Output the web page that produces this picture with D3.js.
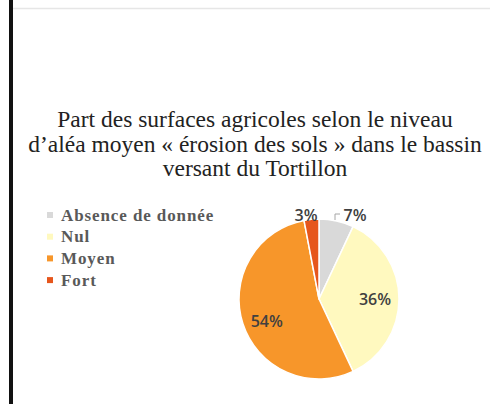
<!DOCTYPE html>
<html>
<head>
<meta charset="utf-8">
<script src="https://cdn.jsdelivr.net/npm/d3@7/dist/d3.min.js"></script>
<style>
  html, body { margin: 0; padding: 0; background: #fff; }
  svg { display: block; }
</style>
</head>
<body>
<svg id="chart" width="490" height="404"></svg>
<script>
// Agricultural area shares by erosion hazard level (Tortillon basin)
const categories = ["Absence de donnée", "Nul", "Moyen", "Fort"];
const values = [7, 36, 54, 3];
const colors = ["#d9d9d9", "#fff9bf", "#f7962a", "#e6561c"];
const titleLines = [
  "Part des surfaces agricoles  selon le niveau",
  "d\u2019aléa moyen « érosion des sols » dans le bassin",
  "versant du Tortillon"
];

const svg = d3.select("#chart");
const serif = "'Liberation Serif', 'Times New Roman', serif";

// frame: thick left rule and faint top rule
svg.append("rect").attr("x", 9).attr("y", 0).attr("width", 4).attr("height", 404).attr("fill", "#111");
svg.append("line").attr("x1", 13).attr("x2", 490).attr("y1", 8.5).attr("y2", 8.5)
  .attr("stroke", "#e6e6e6").attr("stroke-width", 1.5);

// title
svg.append("g").selectAll("text").data(titleLines).join("text")
  .attr("x", 255).attr("y", (d, i) => 127 + i * 24.5)
  .attr("text-anchor", "middle")
  .style("font-family", serif)
  .attr("font-size", 23.5)
  .attr("fill", "#222")
  .text(d => d);

// legend
const legend = svg.append("g").selectAll("g").data(categories).join("g")
  .attr("transform", (d, i) => `translate(47, ${215 + i * 21.7})`);
legend.append("rect").attr("x", 0).attr("y", -3).attr("width", 6).attr("height", 6)
  .attr("fill", (d, i) => colors[i]);
legend.append("text").attr("x", 14).attr("y", 5.5)
  .style("font-family", serif)
  .attr("font-weight", "bold").attr("font-size", 17)
  .attr("letter-spacing", 0.9)
  .attr("fill", "#595959")
  .text(d => d);

// pie
const cx = 319, cy = 299, r = 80;
const pie = d3.pie().sort(null).value(d => d)(values);
const arc = d3.arc().innerRadius(0).outerRadius(r);
const g = svg.append("g").attr("transform", `translate(${cx},${cy})`);
g.selectAll("path").data(pie).join("path")
  .attr("d", arc)
  .attr("fill", (d, i) => colors[i])
  .attr("stroke", "#fff").attr("stroke-width", 1.5).attr("stroke-linejoin", "round");

// data labels: inside for large slices, outside (above the rim) for small ones
const inner = d3.arc().innerRadius(r * 0.7).outerRadius(r * 0.7);
const labelPos = (d, i) => {
  if (d.data >= 10) {
    const c = inner.centroid(d);
    return i === 2 ? [c[0] + 1, c[1] + 5] : c;
  }
  return i === 0 ? [36, -84] : [-13, -84];
};
g.selectAll("text.lbl").data(pie).join("text").attr("class", "lbl")
  .attr("transform", (d, i) => `translate(${labelPos(d, i)})`)
  .attr("text-anchor", "middle").attr("dy", "0.36em")
  .style("font-family", "'Open Sans', 'Noto Sans', sans-serif")
  .attr("font-weight", 600).attr("font-size", 16)
  .attr("fill", "#404040")
  .text(d => d.data + "%");

// leader line for the 7% slice
g.append("path")
  .attr("d", d3.line()([[16, -r + 1], [16, -85], [21, -85]]))
  .attr("fill", "none").attr("stroke", "#a6a6a6").attr("stroke-width", 1);
</script>
</body>
</html>
